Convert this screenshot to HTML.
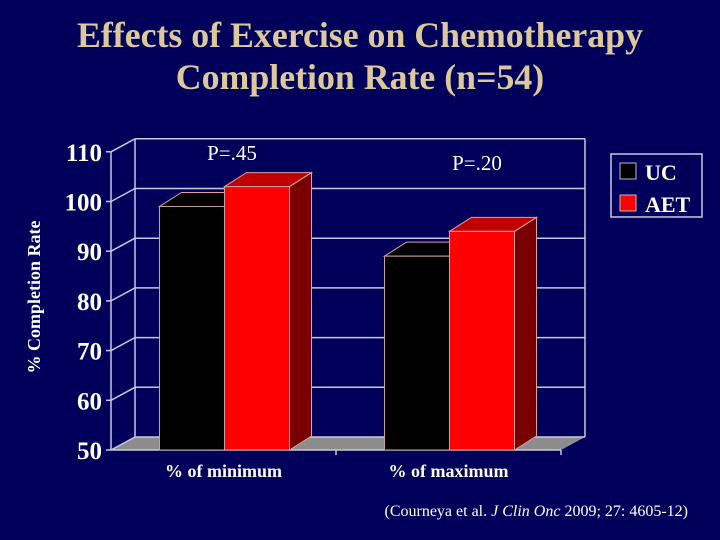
<!DOCTYPE html>
<html><head><meta charset="utf-8"><style>
body{margin:0;background:#00005a;}
svg{display:block}
</style></head><body>
<svg width="720" height="540" xmlns="http://www.w3.org/2000/svg" style="background:#00005a;font-family:'Liberation Serif',serif">
<text x="360" y="47" text-anchor="middle" font-size="35.8" font-weight="bold" fill="#dcc89a">Effects of Exercise on Chemotherapy</text>
<text x="360" y="89" text-anchor="middle" font-size="35.8" font-weight="bold" fill="#dcc89a">Completion Rate (n=54)</text>
<g id="plot"></g>
<text transform="translate(40,297) rotate(-90)" text-anchor="middle" font-size="18" font-weight="bold" fill="#fff">% Completion Rate</text>
<text x="232" y="160" text-anchor="middle" font-size="21" fill="#fff">P=.45</text>
<text x="477" y="170" text-anchor="middle" font-size="21" fill="#fff">P=.20</text>
<g>
<rect x="611" y="154" width="91" height="63" fill="none" stroke="#c8c8e0" stroke-width="1.5"/>
<rect x="620" y="163" width="16" height="16" fill="#000" stroke="#bbb"/>
<text x="645" y="180" font-size="22" font-weight="bold" fill="#fff">UC</text>
<rect x="620" y="195" width="16" height="16" fill="#ff0000" stroke="#bbb"/>
<text x="645" y="212" font-size="22" font-weight="bold" fill="#fff">AET</text>
</g>
<text x="688" y="516" text-anchor="end" font-size="16" fill="#fff">(Courneya et al. <tspan font-style="italic">J Clin Onc</tspan> 2009; 27: 4605-12)</text>
</svg>
<script>
const categories=["% of minimum","% of maximum"];
const ucValues=[99,89];
const aetValues=[103,94];
const yTicks=[50,60,70,80,90,100,110];
const NS="http://www.w3.org/2000/svg";
const g=document.getElementById('plot');
const x0=111,x1=561,dx=24,dy=-13;
function y(v){return 450-(v-50)*4.97;}
function mk(t,a,p){const e=document.createElementNS(NS,t);for(const k in a)e.setAttribute(k,a[k]);(p||g).appendChild(e);return e;}
let fl=mk('polygon',{points:`${x0},450 ${x1},450 ${x1+dx},${450+dy} ${x0+dx},${450+dy}`,fill:'#8c8c8c'});

yTicks.forEach(v=>{
 let l=mk('line',{x1:x0+dx,y1:y(v)+dy,x2:x1+dx,y2:y(v)+dy,stroke:'#c8c8e0','stroke-width':1.5});
 
 let s=mk('line',{x1:x0,y1:y(v),x2:x0+dx,y2:y(v)+dy,stroke:'#c8c8e0','stroke-width':1.5});
 
 let tk=mk('line',{x1:x0-5,y1:y(v),x2:x0,y2:y(v),stroke:'#c8c8e0','stroke-width':1.5});
 
 let t=mk('text',{x:x0-9,y:y(v)+9,'text-anchor':'end','font-size':25,'font-weight':'bold',fill:'#fff'});
 t.textContent=v;
});
mk('line',{x1:x0+dx,y1:y(110)+dy,x2:x0+dx,y2:450+dy,stroke:'#c8c8e0','stroke-width':1.5});
mk('line',{x1:x1+dx,y1:y(110)+dy,x2:x1+dx,y2:450+dy,stroke:'#c8c8e0','stroke-width':1.5});
mk('line',{x1:x0,y1:y(110),x2:x0,y2:450,stroke:'#c8c8e0','stroke-width':1.5});
mk('line',{x1:x0,y1:450,x2:x1,y2:450,stroke:'#c8c8e0','stroke-width':1.5});
mk('line',{x1:x1,y1:450,x2:x1,y2:455,stroke:'#c8c8e0','stroke-width':1.5});
mk('line',{x1:336,y1:450,x2:336,y2:455,stroke:'#c8c8e0','stroke-width':1.5});
const bw=65,bdx=22,bdy=-14;
function bar(x,v,front,top,side,name){
 const t=y(v);
 let s=mk('polygon',{points:`${x+bw},450 ${x+bw+bdx},${450+bdy} ${x+bw+bdx},${t+bdy} ${x+bw},${t}`,fill:side,stroke:'#e0a0a0','stroke-width':1});
 
 let tp=mk('polygon',{points:`${x},${t} ${x+bdx},${t+bdy} ${x+bw+bdx},${t+bdy} ${x+bw},${t}`,fill:top,stroke:'#e0a0a0','stroke-width':1});
 
 let f=mk('rect',{x:x,y:t,width:bw,height:450-t,fill:front,stroke:'#c8a0a0','stroke-width':1});
 
}
const groupW=(x1-x0)/categories.length;
categories.forEach((c,i)=>{
 const cx=x0+groupW*i+groupW/2;
 bar(cx-bw+1,ucValues[i],'#000','#000','#000','bar-uc-'+(i+1));
 bar(cx+1,aetValues[i],'#ff0000','#c00000','#780000','bar-aet-'+(i+1));
 let t=mk('text',{x:cx,y:477,'text-anchor':'middle','font-size':18,'font-weight':'bold',fill:'#fff'});
 t.textContent=c;
});
</script>
</body></html>
